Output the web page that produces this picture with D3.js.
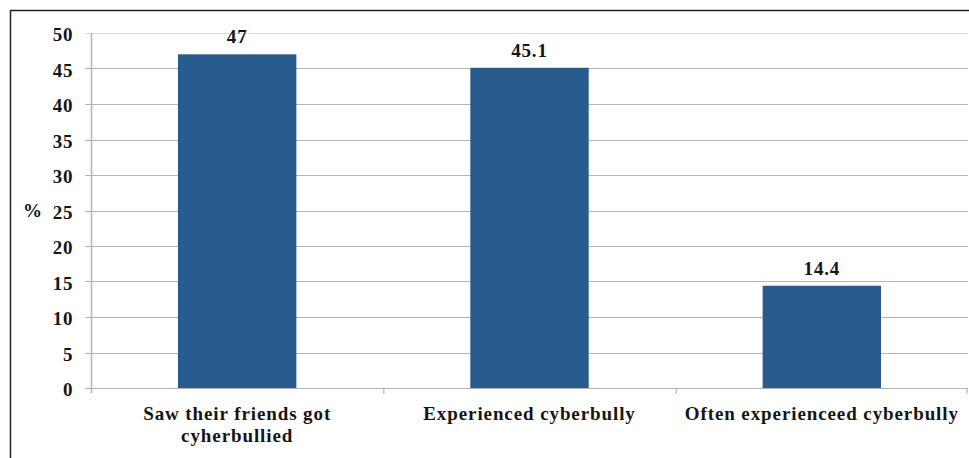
<!DOCTYPE html>
<html>
<head>
<meta charset="utf-8">
<script src="https://cdn.jsdelivr.net/npm/d3@7"></script>
<style>
  body { margin: 0; background: #fff; }
</style>
</head>
<body>
<div id="chart"></div>
<script>
// data
var categories = ["Saw their friends got cyherbullied", "Experienced cyberbully", "Often experienceed cyberbully"]
var category_lines = [["Saw their friends got", "cyherbullied"], ["Experienced cyberbully"], ["Often experienceed cyberbully"]]
var values = [47, 45.1, 14.4]
var value_labels = ["47", "45.1", "14.4"]
var y_ticks = [0, 5, 10, 15, 20, 25, 30, 35, 40, 45, 50]

var width = 969, height = 458
var margin = {top: 33, right: 1, bottom: 70, left: 91}
var font = "'Liberation Serif', 'Times New Roman', serif"

var svg = d3.select("#chart").append("svg")
    .attr("width", width)
    .attr("height", height)

// outer frame (only left and top edges visible)
svg.append("path")
    .attr("d", "M10.5," + height + "V10.5H" + width)
    .style("fill", "none")
    .style("stroke", "#222")
    .style("stroke-width", 1.5)

var x_scale = d3.scaleBand()
    .domain(categories)
    .range([margin.left, width - margin.right])
    .padding(0)

var y_scale = d3.scaleLinear()
    .domain([0, 50])
    .range([height - margin.bottom, margin.top])

var bar_w = x_scale.bandwidth() * 0.405

function label(sel, size, spacing) {
  return sel.style("font-family", font)
    .style("font-weight", "bold")
    .style("font-size", size + "px")
    .style("letter-spacing", (spacing || 0) + "px")
    .style("fill", "#151515")
}

// gridlines + tick marks
svg.append("g")
    .selectAll("line")
    .data(y_ticks)
  .enter().append("line")
    .attr("x1", margin.left - 6)
    .attr("x2", width - margin.right)
    .attr("y1", function(d) { return Math.round(y_scale(d)) + 0.5 })
    .attr("y2", function(d) { return Math.round(y_scale(d)) + 0.5 })
    .style("stroke", function(d) { return d == 50 ? "#dcdcdc" : "#b4b4b4" })
    .style("stroke-width", 1.2)

// y axis line
svg.append("line")
    .attr("x1", margin.left + 0.5).attr("x2", margin.left + 0.5)
    .attr("y1", y_scale(50)).attr("y2", y_scale(0) + 5)
    .style("stroke", "#b4b4b4")
    .style("stroke-width", 1.5)

// category separators on the x axis
svg.append("g")
    .selectAll("line")
    .data(categories.slice(1).concat(["end"]))
  .enter().append("line")
    .attr("x1", function(d, i) { return i < 2 ? x_scale(d) + 0.5 : width - margin.right - 1 })
    .attr("x2", function(d, i) { return i < 2 ? x_scale(d) + 0.5 : width - margin.right - 1 })
    .attr("y1", y_scale(0))
    .attr("y2", y_scale(0) + 6)
    .style("stroke", "#b4b4b4")
    .style("stroke-width", 1.2)

// y tick labels
svg.append("g")
    .selectAll("text")
    .data(y_ticks)
  .enter().append("text")
    .attr("x", 73)
    .attr("y", function(d) { return y_scale(d) + 8 })
    .attr("text-anchor", "end")
    .call(label, 19, 0.6)
    .text(function(d) { return d })

svg.append("text")
    .attr("x", 23)
    .attr("y", 217)
    .call(label, 19, 0.6)
    .text("%")

// bars
svg.append("g")
    .selectAll("rect")
    .data(values)
  .enter().append("rect")
    .attr("x", function(d, i) { return x_scale(categories[i]) + x_scale.bandwidth() / 2 - bar_w / 2 })
    .attr("y", function(d) { return y_scale(d) })
    .attr("width", bar_w)
    .attr("height", function(d) { return y_scale(0) - y_scale(d) })
    .style("fill", "#285b8e")

// value labels
svg.append("g")
    .selectAll("text")
    .data(values)
  .enter().append("text")
    .attr("x", function(d, i) { return x_scale(categories[i]) + x_scale.bandwidth() / 2 })
    .attr("y", function(d) { return y_scale(d) - 11 })
    .attr("text-anchor", "middle")
    .call(label, 19, 0.8)
    .text(function(d, i) { return value_labels[i] })

// category labels
var cat_g = svg.append("g")
    .selectAll("text")
    .data(categories)
  .enter().append("text")
    .attr("x", function(d) { return x_scale(d) + x_scale.bandwidth() / 2 })
    .attr("y", 420)
    .attr("text-anchor", "middle")
    .call(label, 19, 0.9)

cat_g.selectAll("tspan")
    .data(function(d, i) { return category_lines[i] })
  .enter().append("tspan")
    .attr("x", function() { return d3.select(this.parentNode).attr("x") })
    .attr("dy", function(d, i) { return i == 0 ? 0 : 22 })
    .text(function(d) { return d })
</script>
</body>
</html>
